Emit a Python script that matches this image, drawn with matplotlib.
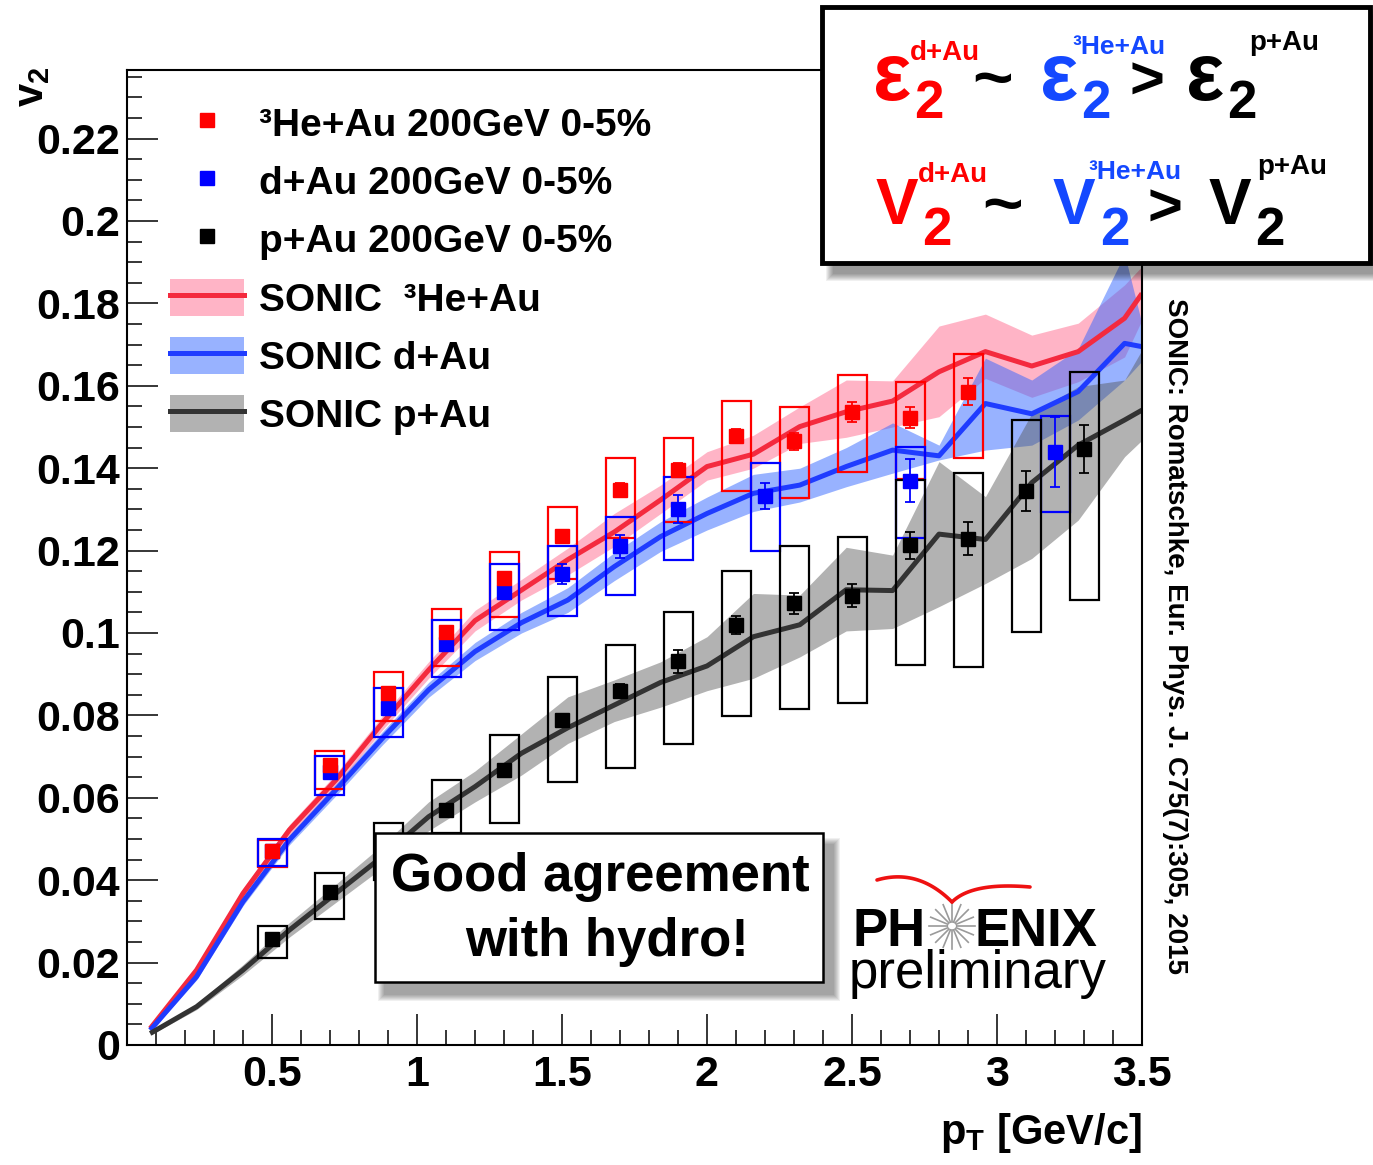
import numpy as np
import matplotlib
matplotlib.use('Agg')
import matplotlib.pyplot as plt
from matplotlib.patches import Rectangle, Patch
from matplotlib.lines import Line2D
from matplotlib.legend_handler import HandlerTuple
from matplotlib.ticker import MultipleLocator, FixedLocator, FuncFormatter

# PHENIX 0-5% central v2 vs pT
pt_he = [0.5, 0.7, 0.9, 1.1, 1.3, 1.5, 1.7, 1.9, 2.1, 2.3, 2.5, 2.7, 2.9]
v2_he = [0.0472, 0.0680, 0.0855, 0.1003, 0.1133, 0.1235, 0.1347, 0.1396, 0.1478, 0.1465, 0.1537, 0.1523, 0.1586]
stat_he = [0.0008, 0.0010, 0.0012, 0.0013, 0.0014, 0.0015, 0.0016, 0.0017, 0.0018, 0.0020, 0.0024, 0.0026, 0.0032]
sys_he_up = [0.0025, 0.0034, 0.0050, 0.0055, 0.0063, 0.0072, 0.0077, 0.0078, 0.0086, 0.0083, 0.0088, 0.0087, 0.0091]
sys_he_dn = [0.0040, 0.0059, 0.0068, 0.0083, 0.0095, 0.0105, 0.0116, 0.0126, 0.0133, 0.0137, 0.0147, 0.0150, 0.0162]

pt_d = [0.5, 0.7, 0.9, 1.1, 1.3, 1.5, 1.7, 1.9, 2.2, 2.7, 3.2]
v2_d = [0.0472, 0.0663, 0.0817, 0.0973, 0.1100, 0.1143, 0.1210, 0.1301, 0.1333, 0.1370, 0.1440]
stat_d = [0.0008, 0.0010, 0.0012, 0.0014, 0.0016, 0.0024, 0.0027, 0.0034, 0.0032, 0.0053, 0.0085]
sys_d_up = [0.0028, 0.0039, 0.0049, 0.0059, 0.0067, 0.0069, 0.0071, 0.0077, 0.0079, 0.0081, 0.0087]
sys_d_dn = [0.0038, 0.0055, 0.0069, 0.0081, 0.0093, 0.0102, 0.0118, 0.0124, 0.0133, 0.0139, 0.0147]

pt_p = [0.5, 0.7, 0.9, 1.1, 1.3, 1.5, 1.7, 1.9, 2.1, 2.3, 2.5, 2.7, 2.9, 3.1, 3.3]
v2_p = [0.0257, 0.0371, 0.0480, 0.0570, 0.0667, 0.0789, 0.0860, 0.0931, 0.1019, 0.1072, 0.1091, 0.1213, 0.1229, 0.1345, 0.1447]
stat_p = [0.0006, 0.0008, 0.0009, 0.0010, 0.0011, 0.0012, 0.0015, 0.0028, 0.0022, 0.0025, 0.0027, 0.0033, 0.0040, 0.0048, 0.0059]
sys_p_up = [0.0032, 0.0047, 0.0060, 0.0073, 0.0085, 0.0103, 0.0111, 0.0121, 0.0132, 0.0138, 0.0143, 0.0158, 0.0160, 0.0172, 0.0187]
sys_p_dn = [0.0047, 0.0066, 0.0080, 0.0056, 0.0127, 0.0150, 0.0188, 0.0201, 0.0220, 0.0257, 0.0261, 0.0291, 0.0311, 0.0342, 0.0367]

# SONIC hydro curves
sonic_pt = [0.08, 0.24, 0.40, 0.56, 0.72, 0.88, 1.04, 1.20, 1.36, 1.52, 1.68, 1.84,
            2.00, 2.16, 2.32, 2.48, 2.64, 2.80, 2.96, 3.12, 3.28, 3.44, 3.50]
sonic_he = [0.0040, 0.0182, 0.0368, 0.0522, 0.0643, 0.0781, 0.0910, 0.1030, 0.1104, 0.1178, 0.1245, 0.1323,
            0.1404, 0.1434, 0.1501, 0.1537, 0.1563, 0.1634, 0.1683, 0.1648, 0.1683, 0.1764, 0.1824]
sonic_he_hi = [0.0048, 0.0192, 0.0380, 0.0535, 0.0658, 0.0798, 0.0930, 0.1055, 0.1130, 0.1206, 0.1290, 0.1359,
               0.1440, 0.1480, 0.1549, 0.1614, 0.1612, 0.1745, 0.1774, 0.1723, 0.1752, 0.1845, 0.1890]
sonic_he_lo = [0.0032, 0.0172, 0.0356, 0.0509, 0.0628, 0.0764, 0.0890, 0.1005, 0.1080, 0.1141, 0.1210, 0.1290,
               0.1371, 0.1400, 0.1460, 0.1475, 0.1500, 0.1525, 0.1618, 0.1572, 0.1610, 0.1670, 0.1760]
sonic_d = [0.0036, 0.0166, 0.0348, 0.0498, 0.0619, 0.0744, 0.0862, 0.0955, 0.1025, 0.1080, 0.1161, 0.1234,
           0.1290, 0.1339, 0.1359, 0.1404, 0.1444, 0.1430, 0.1557, 0.1532, 0.1586, 0.1703, 0.1695]
sonic_d_hi = [0.0040, 0.0174, 0.0358, 0.0510, 0.0633, 0.0760, 0.0880, 0.0977, 0.1050, 0.1110, 0.1195, 0.1270,
              0.1330, 0.1385, 0.1400, 0.1450, 0.1510, 0.1456, 0.1667, 0.1614, 0.1690, 0.1920, 0.1750]
sonic_d_lo = [0.0032, 0.0158, 0.0338, 0.0486, 0.0605, 0.0728, 0.0844, 0.0933, 0.1000, 0.1050, 0.1127, 0.1198,
              0.1250, 0.1295, 0.1318, 0.1355, 0.1388, 0.1420, 0.1444, 0.1456, 0.1517, 0.1614, 0.1660]
sonic_p = [0.0028, 0.0093, 0.0182, 0.0279, 0.0368, 0.0457, 0.0554, 0.0627, 0.0708, 0.0770, 0.0825, 0.0880,
           0.0920, 0.0991, 0.1020, 0.1105, 0.1103, 0.1240, 0.1227, 0.1365, 0.1456, 0.1517, 0.1541]
sonic_p_hi = [0.0032, 0.0100, 0.0195, 0.0297, 0.0390, 0.0485, 0.0590, 0.0665, 0.0755, 0.0845, 0.0886, 0.0930,
              0.0991, 0.1096, 0.1092, 0.1208, 0.1189, 0.1416, 0.1331, 0.1533, 0.1598, 0.1614, 0.1687]
sonic_p_lo = [0.0024, 0.0086, 0.0170, 0.0262, 0.0346, 0.0430, 0.0520, 0.0590, 0.0655, 0.0732, 0.0785, 0.0820,
              0.0860, 0.0890, 0.0942, 0.1005, 0.1011, 0.1064, 0.1120, 0.1181, 0.1274, 0.1428, 0.1468]

labels = ['\u00b3He+Au 200GeV 0-5%', 'd+Au 200GeV 0-5%', 'p+Au 200GeV 0-5%',
          'SONIC  \u00b3He+Au', 'SONIC d+Au', 'SONIC p+Au']

plt.rcParams['font.family'] = ['Liberation Sans', 'DejaVu Sans']
plt.rcParams['font.weight'] = 'bold'
plt.rcParams['axes.labelweight'] = 'bold'
plt.rcParams['mathtext.fontset'] = 'custom'
plt.rcParams['mathtext.rm'] = 'Liberation Sans:bold'
plt.rcParams['mathtext.it'] = 'Liberation Sans:bold'
plt.rcParams['mathtext.bf'] = 'Liberation Sans:bold'
plt.rcParams['mathtext.default'] = 'rm'

W, H = 1373, 1165
fig = plt.figure(figsize=(W / 100, H / 100), dpi=100)
ax = fig.add_axes([127 / W, 1 - 1045 / H, 1015 / W, 975 / H])


def fx(x):
    return x / W


def fy(y):
    return 1 - y / H


RED, BLUE, BLACK = '#ff0000', '#0000ff', '#000000'
bands = [
    (sonic_he_lo, sonic_he_hi, sonic_he, '#ff6b8f', 0.5, '#f42a3e'),
    (sonic_d_lo, sonic_d_hi, sonic_d, '#3366ff', 0.5, '#1f3cff'),
    (sonic_p_lo, sonic_p_hi, sonic_p, '#555555', 0.45, '#333333'),
]
for lo, hi, mid, fc, a, lc in bands:
    ax.fill_between(sonic_pt, lo, hi, color=fc, alpha=a, lw=0, zorder=1)
for lo, hi, mid, fc, a, lc in bands:
    ax.plot(sonic_pt, mid, color=lc, lw=3.6, zorder=2, solid_capstyle='butt')

# systematic boxes and stat errors
sets = [
    (pt_he, v2_he, stat_he, sys_he_up, sys_he_dn, RED),
    (pt_d, v2_d, stat_d, sys_d_up, sys_d_dn, BLUE),
    (pt_p, v2_p, stat_p, sys_p_up, sys_p_dn, BLACK),
]
for pt, v2, st, up, dn, c in sets:
    for x, y, u, d in zip(pt, v2, up, dn):
        ax.add_patch(Rectangle((x - 0.05, y - d), 0.1, u + d, fill=False,
                               ec=c, lw=1.6, zorder=3))
for pt, v2, st, up, dn, c in sets[::-1]:
    ax.errorbar(pt, v2, yerr=st, fmt='s', ms=9.5, color=c, mec=c,
                elinewidth=1.3, capsize=3.5, capthick=1.3, zorder=4)

ax.set_xlim(0, 3.5)
ax.set_ylim(0, 0.23665)
ax.xaxis.set_major_locator(FixedLocator([0.5, 1, 1.5, 2, 2.5, 3, 3.5]))
ax.xaxis.set_minor_locator(MultipleLocator(0.1))
ax.yaxis.set_major_locator(MultipleLocator(0.02))
ax.yaxis.set_minor_locator(MultipleLocator(0.005))
ax.xaxis.set_major_formatter(FuncFormatter(lambda v, p: f'{v:g}'))
ax.yaxis.set_major_formatter(FuncFormatter(lambda v, p: f'{round(v, 3):g}'))
ax.tick_params(which='both', direction='in', top=False, right=False, width=1.1)
ax.tick_params(which='major', length=22, labelsize=31)
ax.tick_params(which='minor', length=11)
ax.tick_params(axis='y', pad=5)
ax.tick_params(axis='x', pad=7)
for s in ax.spines.values():
    s.set_linewidth(1.5)

ax.set_xlabel(r'$p_T$ [GeV/c]', fontsize=30, fontweight='bold', loc='right', labelpad=12)
fig.text(fx(32), fy(66), r'$v_2$', fontsize=30, rotation=90, ha='center', va='top')

handles = [
    Line2D([], [], marker='s', ls='none', color=RED, ms=9.5),
    Line2D([], [], marker='s', ls='none', color=BLUE, ms=9.5),
    Line2D([], [], marker='s', ls='none', color=BLACK, ms=9.5),
]
for lo, hi, mid, fc, a, lc in bands:
    handles.append((Patch(facecolor=fc, alpha=a, edgecolor='none'),
                    Line2D([], [], color=lc, lw=3.6)))
ax.legend(handles, labels, handler_map={tuple: HandlerTuple(ndivide=1)},
          loc='upper left', bbox_to_anchor=(0.042, 0.965), frameon=False,
          prop={'family': 'Liberation Sans', 'weight': 'bold', 'size': 28},
          handlelength=1.9, handleheight=1.1, handletextpad=0.4,
          labelspacing=0.47, borderpad=0, borderaxespad=0)

# citation along the right edge
fig.text(fx(1175), fy(298), 'SONIC: Romatschke, Eur. Phys. J. C75(7):305, 2015',
         rotation=-90, ha='center', va='top', fontsize=20)


def soft_shadow(x0, y0, x1, y1, dx, dy, blur, z):
    for i in range(blur):
        g = blur - i
        fig.add_artist(Rectangle((fx(x0 + dx - g), fy(y1 + dy + g)),
                                 (x1 - x0 + 2 * g) / W, (y1 - y0 + 2 * g) / H,
                                 transform=fig.transFigure, fc='#000000', ec='none',
                                 alpha=0.06, zorder=z))


# ordering box in the top right corner
soft_shadow(822, 7, 1370, 263, 12, 10, 8, 5)
fig.add_artist(Rectangle((fx(822), fy(263)), 548 / W, 256 / H, transform=fig.transFigure,
                         fc='white', ec='black', lw=3.5, zorder=6))
EQ_BLUE = '#1448ff'
eq_parts = [
    (873, 100, '\u03b5', RED, 58), (914, 118, '2', RED, 38), (910, 60, 'd+Au', RED, 20),
    (972, 100, '~', BLACK, 50),
    (1040, 100, '\u03b5', EQ_BLUE, 58), (1081, 118, '2', EQ_BLUE, 38), (1072, 54, '\u00b3He+Au', EQ_BLUE, 19),
    (1129, 99, '>', BLACK, 43),
    (1186, 100, '\u03b5', BLACK, 58), (1227, 118, '2', BLACK, 38), (1249, 50, 'p+Au', BLACK, 20),
    (876, 224, 'V', RED, 46), (922, 245, '2', RED, 38), (918, 182, 'd+Au', RED, 20),
    (982, 226, '~', BLACK, 50),
    (1053, 224, 'V', EQ_BLUE, 46), (1100, 245, '2', EQ_BLUE, 38), (1088, 179, '\u00b3He+Au', EQ_BLUE, 19),
    (1147, 226, '>', BLACK, 43),
    (1209, 224, 'V', BLACK, 46), (1255, 245, '2', BLACK, 38), (1257, 174, 'p+Au', BLACK, 20),
]
for x, y, s, c, size in eq_parts:
    fig.text(fx(x), fy(y), s, color=c, fontsize=size, ha='left', va='baseline', zorder=7)

# hydro comment box
soft_shadow(375, 833, 823, 982, 10, 12, 7, 5)
fig.add_artist(Rectangle((fx(375), fy(982)), 448 / W, 149 / H, transform=fig.transFigure,
                         fc='white', ec='black', lw=1.8, zorder=6))
fig.text(fx(600), fy(877), 'Good agreement', fontsize=38, ha='center', va='center', zorder=7)
fig.text(fx(607), fy(942), 'with hydro!', fontsize=38, ha='center', va='center', zorder=7)

# PHENIX preliminary tag
fig.text(fx(852), fy(946), 'PH', fontsize=38, ha='left', va='baseline', zorder=7)
fig.text(fx(975), fy(946), 'ENIX', fontsize=38, ha='left', va='baseline', zorder=7)
fig.text(fx(849), fy(988), 'preliminary', fontsize=38, fontweight='normal',
         ha='left', va='baseline', zorder=7)
cx, cy = 952, 926
for ang in np.linspace(0, np.pi, 9)[:-1]:
    dxr, dyr = 23 * np.cos(ang), 23 * np.sin(ang)
    fig.add_artist(Line2D([fx(cx - dxr), fx(cx + dxr)], [fy(cy - dyr), fy(cy + dyr)],
                          transform=fig.transFigure, color='#9a9a9a', lw=1.2, zorder=7))
fig.add_artist(plt.Circle((fx(cx), fy(cy)), 4.5 / W, transform=fig.transFigure,
                          fc='white', ec='#9a9a9a', lw=0.8, zorder=8))
t = np.linspace(0, 1, 30)
for p0, pc, p1 in [((877, 880), (918, 868), (952, 902)), ((952, 902), (972, 882), (1030, 887))]:
    bx = (1 - t) ** 2 * p0[0] + 2 * t * (1 - t) * pc[0] + t ** 2 * p1[0]
    by = (1 - t) ** 2 * p0[1] + 2 * t * (1 - t) * pc[1] + t ** 2 * p1[1]
    fig.add_artist(Line2D(fx(bx), fy(by), transform=fig.transFigure, color='#ee1111',
                          lw=2.6, zorder=7, solid_capstyle='round'))

fig.savefig('out.png', dpi=100)
